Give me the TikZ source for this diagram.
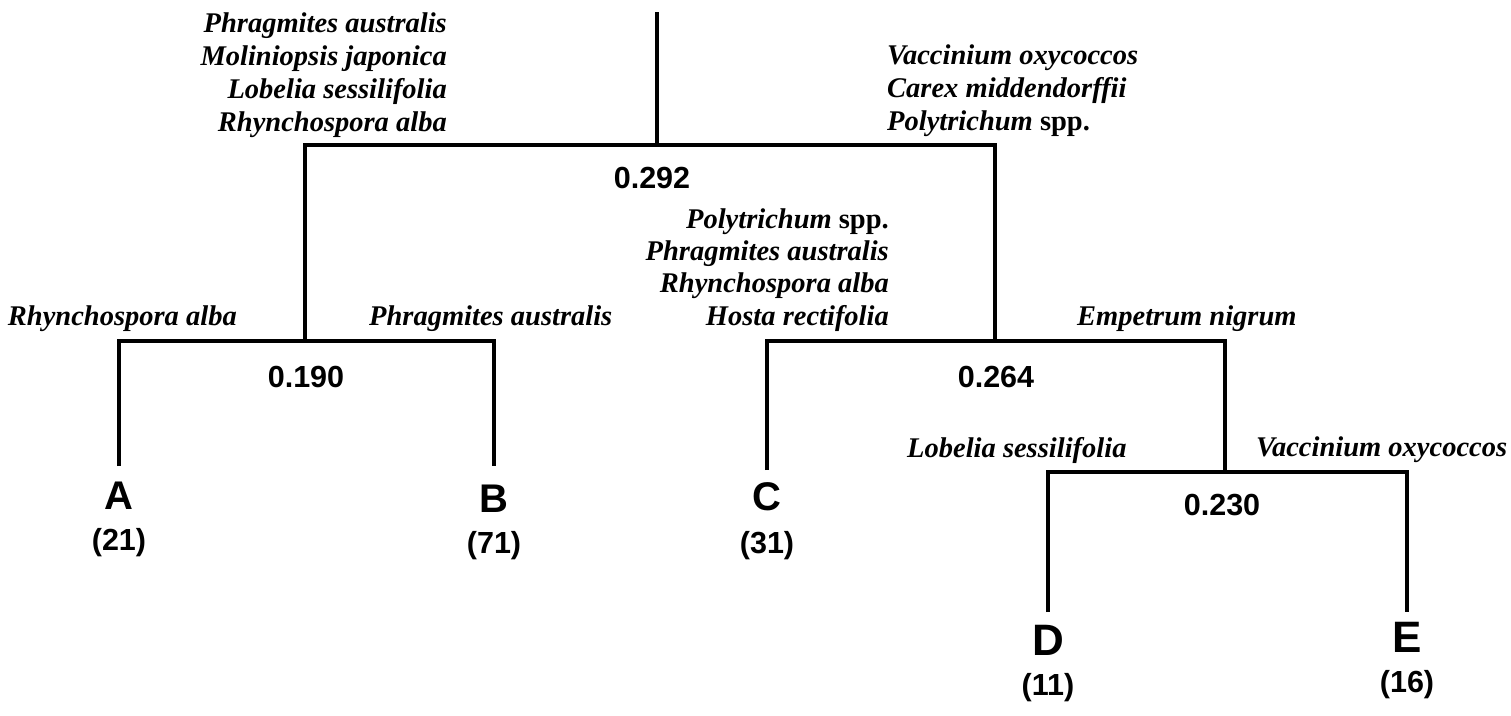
\documentclass[tikz,border=0pt]{standalone}
\usepackage{fontspec}
\setmainfont{Liberation Serif}
\newfontfamily\sansnum{Liberation Sans}
\tikzset{
  branch/.style={line width=4.5pt, line cap=butt, line join=miter},
  sp/.style={font=\fontsize{28.5}{33}\selectfont\bfseries\itshape, inner sep=0pt},
  spr/.style={sp, anchor=base east},
  spl/.style={sp, anchor=base west},
  num/.style={font=\sansnum\fontsize{30.5}{34}\selectfont\bfseries, inner sep=0pt, anchor=base},
  leaf/.style={font=\sansnum\fontsize{40}{44}\selectfont\bfseries, inner sep=0pt, anchor=base},
  bigleaf/.style={font=\sansnum\fontsize{44}{48}\selectfont\bfseries, inner sep=0pt, anchor=base},
}
\begin{document}
\begin{tikzpicture}[x=1pt,y=-1pt]
\useasboundingbox (0,0) rectangle (1511,715);
% junctions
\coordinate (root) at (657,12);
\coordinate (n1) at (657,145);
\coordinate (n2) at (305,341);
\coordinate (n3) at (995,341);
\coordinate (n4) at (1225,472);
\coordinate (aEnd) at (119,466);
\coordinate (bEnd) at (494,466);
\coordinate (cEnd) at (767,470);
\coordinate (dEnd) at (1048,612);
\coordinate (eEnd) at (1407,612);
% branches
\draw[branch] (root) -- (n1);
\draw[branch] (n2) |- (n1) -| (n3);
\draw[branch] (aEnd) |- (n2) -| (bEnd);
\draw[branch] (cEnd) |- (n3) -| (n4);
\draw[branch] (dEnd) |- (n4) -| (eEnd);
% top-left labels
\node[spr] (tl1) at (447,32) {Phragmites australis};
\node[spr] (tl2) at (447,65) {Moliniopsis japonica};
\node[spr] (tl3) at (447,98) {Lobelia sessilifolia};
\node[spr] (tl4) at (447,131) {Rhynchospora alba};
% top-right labels
\node[spl] (tr1) at (887,64) {Vaccinium oxycoccos};
\node[spl] (tr2) at (887,97) {Carex middendorffii};
\node[spl] (tr3) at (887,130) {Polytrichum {\upshape spp.}};
% middle-right labels
\node[spr] (mr1) at (889,228) {Polytrichum {\upshape spp.}};
\node[spr] (mr2) at (889,260) {Phragmites australis};
\node[spr] (mr3) at (889,292) {Rhynchospora alba};
\node[spr] (mr4) at (889,325) {Hosta rectifolia};
% level-2 labels
\node[spr] (l2a) at (237,325) {Rhynchospora alba};
\node[spl] (l2b) at (369,325) {Phragmites australis};
\node[spl] (l2e) at (1077,325) {Empetrum nigrum};
% level-3 labels
\node[spl] (l3d) at (907,457) {Lobelia sessilifolia};
\node[spl] (l3e) at (1256,456) {Vaccinium oxycoccos};
% distances
\node[num] (d1) at (652,188) {0.292};
\node[num] (d2) at (306,387) {0.190};
\node[num] (d3) at (996,387) {0.264};
\node[num] (d4) at (1222,515) {0.230};
% leaves
\node[leaf] (A) at (119,509) {A};
\node[num] (Acnt) at (119,550) {(21)};
\node[leaf] (B) at (494,512) {B};
\node[num] (Bcnt) at (494,553) {(71)};
\node[leaf] (C) at (767,510) {C};
\node[num] (Ccnt) at (767,553) {(31)};
\node[bigleaf] (D) at (1048,655) {D};
\node[num] (Dcnt) at (1048,695) {(11)};
\node[bigleaf] (E) at (1407,652) {E};
\node[num] (Ecnt) at (1407,692) {(16)};
\end{tikzpicture}
\end{document}
